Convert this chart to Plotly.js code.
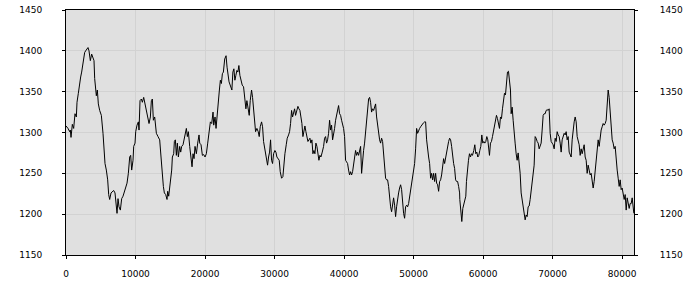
<!DOCTYPE html>
<html>
<head>
<meta charset="utf-8">
<script src="https://cdn.plot.ly/plotly-3.0.1.min.js"></script>
<style>html,body{margin:0;padding:0;background:#fff;}#chart{width:700px;height:300px;}</style>
</head>
<body>
<div id="chart"></div>
<script>
const xVals = [0,288,528,623,719,911,1103,1295,1487,1583,1775,1966,2110,2254,2446,2686,2830,3021,3165,3309,3501,3693,3885,4029,4125,4364,4508,4652,4844,5084,5324,5468,5611,5803,5995,6139,6283,6475,6666,6858,7050,7242,7338,7482,7626,7818,8009,8201,8393,8585,8777,8969,9161,9304,9448,9640,9736,9928,10024,10216,10408,10503,10647,10839,10983,11175,11367,11559,11750,11942,12134,12278,12422,12566,12758,12997,13237,13477,13669,13861,14004,14148,14340,14532,14628,14772,14916,15107,15203,15299,15491,15587,15731,15875,16019,16163,16354,16498,16642,16834,17026,17170,17314,17457,17601,17793,17985,18129,18273,18417,18561,18752,18944,19136,19232,19424,19616,19807,19999,20191,20383,20575,20767,20959,21150,21246,21438,21582,21726,21918,22062,22206,22349,22493,22637,22829,23021,23165,23309,23453,
23861,24005,24149,24293,24437,24581,24724,24868,25012,25204,25348,25540,25732,25876,26019,26211,26355,26499,26691,26835,26979,27123,27267,27458,27650,27794,27938,28130,28274,28417,28609,28801,28993,29137,29281,29425,29568,29712,29856,30048,30192,30336,30528,30671,30815,31007,31199,31343,31487,31679,31822,32014,32158,32302,32446,32590,32734,32878,33021,33213,33357,33501,33645,33789,33933,34077,34220,34364,34508,34652,34796,34940,35084,35228,35372,35515,35659,35803,35947,36091,36235,36379,36523,36666,36858,37050,37194,37338,37482,37626,37770,37913,38057,38201,38345,38489,38633,38777,38921,39064,39208,39352,39496,39640,39784,39928,40072,40216,40359,40503,40647,40791,40935,41079,41223,41367,41510,41654,41798,41942,42086,42230,42374,42518,42661,42805,42949,43093,43237,43381,43525,43669,43812,43956,44100,44244,44388,44532,44676,44820,44963,45107,45251,45395,45539,45683,45827,45971,46115,46258,46402,46546,46690,46834,46978,47122,47266,47409,47553,47697,47841,47985,48129,48273,48417,48560,48704,48848,48992,49136,49280,49424,49568,49711,49855,49999,50143,50287,50431,50575,50719,50862,51006,51150,51294,51438,51582,51726,51870,52013,52157,52301,52445,52589,52733,52877,53021,53164,53308,53452,53596,53740,53884,54028,54172,54315,54459,54603,54747,54891,55035,55179,55323,55466,55610,55754,55898,56042,56186,56330,56474,56617,
56643,56787,56931,57075,57219,57362,57506,57602,57746,57890,58034,58178,58322,58465,58657,58801,58945,59089,59233,59377,59521,59664,59808,59952,60096,60240,60384,60528,60672,60816,60911,61055,61199,61343,61487,61631,61775,61919,62062,62206,62350,62494,62638,62782,62926,63070,63214,63357,63501,63645,63789,63933,64029,64173,64317,64460,64604,64748,64892,65036,65180,65324,65468,65612,65755,65899,66043,66187,66331,66475,66619,66763,66906,67050,67194,67338,67482,67626,67770,67914,68058,68201,68345,68489,68633,68777,68921,69065,69209,69352,69496,69640,69784,69928,70072,70216,70360,70504,70647,70791,70935,71079,71223,71367,71511,71655,71798,71942,72086,72230,72374,72518,72662,72806,72949,73093,73237,73381,73525,73669,73813,73957,74100,74244,74388,74532,74676,74820,74964,75108,75251,75395,75539,75683,75827,75971,76115,76259,76402,76546,76690,76834,76978,77122,77266,77410,77553,77697,77841,77985,78129,78273,78417,78561,78704,78848,78992,79136,79280,79424,79568,79712,79855,79999,80143,80287,80431,80575,80719,80863,81006,81150,81294,81438,81582,81678];

const yVals = [1308,1305,1301,1303,1294,1310,1305,1323,1319,1337,1348,1364,1368,1374,1388,1398,1400,1402,1404,1400,1388,1396,1390,1388,1366,1345,1352,1335,1327,1321,1299,1282,1262,1254,1242,1224,1218,1226,1228,1229,1226,1209,1201,1219,1209,1205,1219,1222,1228,1234,1238,1250,1270,1272,1254,1266,1283,1287,1301,1309,1313,1303,1339,1341,1337,1343,1335,1331,1323,1311,1319,1339,1341,1315,1319,1299,1295,1291,1270,1246,1234,1226,1224,1218,1228,1222,1234,1242,1254,1270,1274,1289,1291,1272,1287,1270,1283,1276,1283,1285,1293,1303,1305,1295,1301,1283,1266,1258,1274,1268,1283,1274,1287,1297,1287,1285,1272,1273,1270,1274,1287,1299,1313,1311,1325,1309,1319,1305,1323,1335,1352,1364,1360,1372,1374,1390,1394,1380,1368,1362,
1352,1374,1378,1364,1370,1376,1374,1382,1370,1362,1358,1356,1341,1329,1339,1331,1321,1339,1352,1343,1327,1305,1301,1305,1301,1295,1307,1313,1307,1289,1278,1270,1260,1270,1276,1291,1266,1262,1274,1278,1276,1270,1268,1266,1252,1244,1246,1262,1274,1285,1293,1297,1301,1311,1327,1319,1323,1329,1321,1329,1332,1329,1327,1319,1311,1295,1301,1308,1301,1293,1289,1291,1293,1287,1291,1274,1278,1274,1287,1283,1272,1266,1272,1270,1276,1283,1293,1295,1287,1291,1299,1315,1303,1309,1291,1297,1305,1315,1323,1327,1333,1323,1321,1315,1311,1305,1295,1266,1264,1262,1254,1248,1252,1248,1252,1260,1268,1278,1272,1276,1272,1278,1283,1250,1270,1278,1287,1299,1311,1321,1341,1343,1337,1325,1329,1327,1331,1335,1319,1309,1301,1291,1287,1293,1289,1272,1256,1244,1242,1242,1234,1218,1209,1203,1215,1220,1211,1197,1209,1220,1226,1232,1236,1230,1213,1201,1195,1209,1211,1209,1213,1222,1228,1236,1246,1258,1262,1280,1305,1299,1303,1305,1307,1309,1311,1312,1313,1313,1291,1278,1270,1262,1244,1250,1242,1250,1240,1250,1238,1236,1228,1240,1242,1248,1256,1268,1262,1270,1274,1283,1289,1293,1291,1283,1270,1262,1256,1242,1240,1240,1234,1226,
1218,1201,1191,1207,1213,1220,1222,1240,1258,1266,1274,1270,1274,1272,1278,1285,1274,1276,1270,1272,1278,1283,1297,1287,1289,1287,1289,1295,1291,1283,1272,1287,1289,1295,1301,1305,1313,1321,1317,1309,1305,1319,1317,1329,1337,1348,1346,1360,1374,1375,1366,1352,1323,1331,1315,1295,1287,1274,1266,1275,1264,1250,1226,1218,1205,1199,1193,1199,1197,1209,1210,1218,1230,1240,1250,1260,1295,1293,1289,1287,1280,1283,1287,1303,1321,1323,1323,1327,1328,1327,1329,1299,1289,1287,1285,1280,1293,1289,1301,1297,1295,1287,1276,1291,1295,1299,1297,1301,1291,1295,1276,1272,1270,1291,1305,1313,1319,1313,1295,1291,1285,1272,1280,1274,1278,1285,1270,1266,1250,1260,1254,1248,1250,1242,1232,1240,1252,1266,1280,1291,1283,1299,1303,1307,1311,1309,1311,1315,1331,1352,1343,1327,1305,1291,1287,1280,1283,1262,1254,1244,1234,1242,1230,1232,1222,1218,1224,1205,1220,1211,1207,1213,1213,1220,1205,1201];

const xTicks = [0,10000,20000,30000,40000,50000,60000,70000,80000];
const yTicks = [1150,1200,1250,1300,1350,1400,1450];

const tickFont = {family: 'DejaVu Sans, Verdana, sans-serif', size: 9, color: '#000'};

const traces = [
  {x: xVals, y: yVals, type: 'scatter', mode: 'lines',
   line: {color: '#000', width: 1}, hoverinfo: 'skip'},
  {x: xVals, y: yVals, type: 'scatter', mode: 'none', yaxis: 'y2', hoverinfo: 'skip'}
];

const layout = {
  width: 700, height: 300,
  margin: {l: 66, r: 66, t: 10, b: 45, pad: 0},
  paper_bgcolor: '#ffffff',
  plot_bgcolor: '#e0e0e0',
  showlegend: false,
  xaxis: {
    range: [0, 81700], tickvals: xTicks, ticktext: xTicks.map(String),
    showgrid: true, gridcolor: '#d2d2d2', gridwidth: 1, zeroline: false,
    showline: true, linecolor: '#000', linewidth: 1, mirror: true,
    ticks: 'outside', ticklen: 3, tickcolor: '#000', tickwidth: 1,
    tickfont: tickFont, ticklabelstandoff: 7
  },
  yaxis: {
    range: [1150, 1450], tickvals: yTicks, ticktext: yTicks.map(String),
    showgrid: true, gridcolor: '#d2d2d2', gridwidth: 1, zeroline: false,
    showline: true, linecolor: '#000', linewidth: 1,
    ticks: 'outside', ticklen: 3, tickcolor: '#000', tickwidth: 1,
    tickfont: tickFont, ticklabelstandoff: 18
  },
  yaxis2: {
    overlaying: 'y', side: 'right',
    range: [1150, 1450], tickvals: yTicks, ticktext: yTicks.map(String),
    showgrid: false, zeroline: false,
    showline: true, linecolor: '#000', linewidth: 1,
    ticks: 'outside', ticklen: 3, tickcolor: '#000', tickwidth: 1,
    tickfont: tickFont, ticklabelstandoff: 20
  }
};

Plotly.newPlot('chart', traces, layout, {staticPlot: true, displayModeBar: false});
</script>
</body>
</html>
